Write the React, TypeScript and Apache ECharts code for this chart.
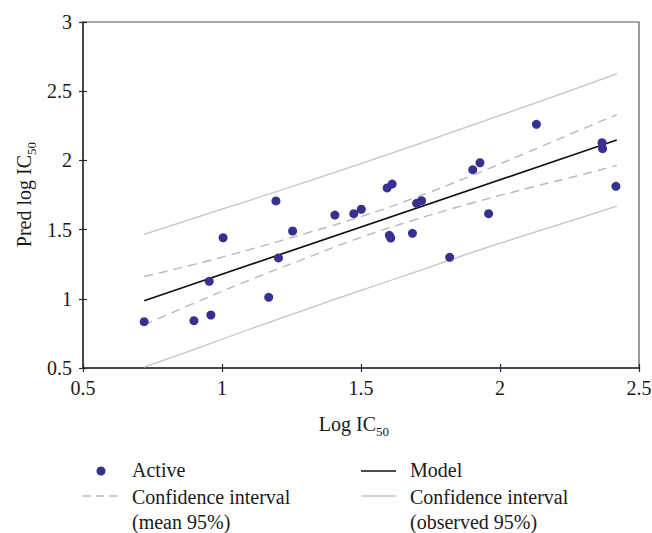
import React, { useEffect, useRef } from "react";
import * as echarts from "echarts";

// Observed (Log IC50) vs predicted (Pred log IC50) values – "Active" set
const activeX = [0.72, 0.899, 0.954, 0.96, 1.004, 1.168, 1.194, 1.203, 1.254, 1.406, 1.474, 1.501, 1.594, 1.612, 1.602, 1.607, 1.685, 1.7, 1.718, 1.819, 1.902, 1.928, 1.959, 2.131, 2.367, 2.369, 2.417];
const activeY = [0.835, 0.842, 1.126, 0.883, 1.441, 1.011, 1.707, 1.295, 1.49, 1.605, 1.615, 1.647, 1.801, 1.829, 1.459, 1.439, 1.473, 1.69, 1.709, 1.3, 1.933, 1.983, 1.615, 2.261, 2.128, 2.085, 1.813];

// Model line end points
const modelX = [0.72, 2.42];
const modelY = [0.986, 2.147];

// Confidence bands
const bandX = [0.72, 0.9, 1.1, 1.3, 1.5, 1.7, 1.9, 2.1, 2.3, 2.42];
const meanUpper = [1.161, 1.249, 1.356, 1.472, 1.594, 1.735, 1.892, 2.059, 2.23, 2.33];
const meanLower = [0.811, 0.969, 1.136, 1.292, 1.444, 1.575, 1.692, 1.799, 1.9, 1.964];
const obsUpper = [1.466, 1.583, 1.712, 1.843, 1.977, 2.114, 2.255, 2.395, 2.538, 2.625];
const obsLower = [0.506, 0.635, 0.78, 0.921, 1.061, 1.196, 1.335, 1.465, 1.592, 1.669];

// Axis ticks
const xTicks = [0.5, 1, 1.5, 2, 2.5];
const yTicks = [0.5, 1, 1.5, 2, 2.5, 3];

const FONT = "'Liberation Serif', 'DejaVu Serif', serif";
const TXT = "#1a1a1a";
const PT = "#38308f";
const DASH_C = "#b9b9b9";
const OBS_C = "#c4c4c4";

function pairs(xs: number[], ys: number[]) {
  return xs.map((x, i) => [x, ys[i]]);
}

export default function App() {
  const ref = useRef<HTMLDivElement>(null);
  useEffect(() => {
    if (!ref.current) return;
    const chart = echarts.init(ref.current, null, { renderer: "svg" });
    const axisCommon = {
      type: "value" as const,
      splitLine: { show: false },
    };
    const option: any = {
      animation: false,
      backgroundColor: "#ffffff",
      grid: {
        left: 83,
        right: 13,
        top: 22,
        bottom: 165,
        show: true,
        borderColor: "#555555",
        borderWidth: 1.2,
        outerBoundsMode: "none",
      },
      xAxis: [
        {
          ...axisCommon,
          min: xTicks[0],
          max: xTicks[xTicks.length - 1],
          interval: 0.5,
          axisLine: { show: true, lineStyle: { color: "#2a2a2a", width: 1.5 } },
          axisTick: { show: true, length: 4, lineStyle: { color: "#2a2a2a", width: 1.2 } },
          axisLabel: { color: TXT, fontFamily: FONT, fontSize: 20, margin: 10 },
        },
        {
          ...axisCommon,
          position: "bottom",
          min: xTicks[0],
          max: xTicks[xTicks.length - 1],
          interval: 0.5,
          axisLine: { show: false },
          axisTick: { show: true, inside: true, length: 4, lineStyle: { color: "#2a2a2a", width: 1.2 } },
          axisLabel: { show: false },
        },
      ],
      yAxis: [
        {
          ...axisCommon,
          min: yTicks[0],
          max: yTicks[yTicks.length - 1],
          interval: 0.5,
          axisLine: { show: true, lineStyle: { color: "#2a2a2a", width: 1.5 } },
          axisTick: { show: true, length: 4, lineStyle: { color: "#2a2a2a", width: 1.2 } },
          axisLabel: { color: TXT, fontFamily: FONT, fontSize: 20, margin: 11 },
        },
        {
          ...axisCommon,
          position: "left",
          min: yTicks[0],
          max: yTicks[yTicks.length - 1],
          interval: 0.5,
          axisLine: { show: false },
          axisTick: { show: true, inside: true, length: 4, lineStyle: { color: "#2a2a2a", width: 1.2 } },
          axisLabel: { show: false },
        },
      ],
      series: [
        {
          name: "Confidence interval (observed 95%) upper",
          type: "line",
          data: pairs(bandX, obsUpper),
          smooth: true,
          symbol: "none",
          lineStyle: { color: OBS_C, width: 1.3 },
          z: 1,
        },
        {
          name: "Confidence interval (observed 95%) lower",
          type: "line",
          data: pairs(bandX, obsLower),
          smooth: true,
          symbol: "none",
          lineStyle: { color: OBS_C, width: 1.3 },
          z: 1,
        },
        {
          name: "Confidence interval (mean 95%) upper",
          type: "line",
          data: pairs(bandX, meanUpper),
          smooth: true,
          symbol: "none",
          lineStyle: { color: DASH_C, width: 1.4, type: [9, 6] },
          z: 2,
        },
        {
          name: "Confidence interval (mean 95%) lower",
          type: "line",
          data: pairs(bandX, meanLower),
          smooth: true,
          symbol: "none",
          lineStyle: { color: DASH_C, width: 1.4, type: [9, 6] },
          z: 2,
        },
        {
          name: "Model",
          type: "line",
          data: pairs(modelX, modelY),
          symbol: "none",
          lineStyle: { color: "#111111", width: 1.7 },
          z: 3,
        },
        {
          name: "Active",
          type: "scatter",
          data: pairs(activeX, activeY),
          symbol: "circle",
          symbolSize: 9,
          itemStyle: { color: PT, opacity: 1 },
          z: 5,
        },
      ],
      graphic: [
        // X axis title
        {
          type: "text",
          x: 376,
          y: 424,
          style: { text: "Log IC", font: `20px ${FONT}`, fill: TXT, align: "right", verticalAlign: "middle" },
        },
        {
          type: "text",
          x: 376,
          y: 431,
          style: { text: "50", font: `13px ${FONT}`, fill: TXT, align: "left", verticalAlign: "middle" },
        },
        // Y axis title (rotated)
        {
          type: "group",
          x: 24,
          y: 195,
          rotation: Math.PI / 2,
          children: [
            {
              type: "text",
              x: 40,
              y: 0,
              style: { text: "Pred log IC", font: `20px ${FONT}`, fill: TXT, align: "right", verticalAlign: "middle" },
            },
            {
              type: "text",
              x: 40,
              y: 7,
              style: { text: "50", font: `13px ${FONT}`, fill: TXT, align: "left", verticalAlign: "middle" },
            },
          ],
        },
        // Legend
        { type: "circle", shape: { cx: 101, cy: 471, r: 4.5 }, style: { fill: PT } },
        { type: "text", x: 132, y: 470, style: { text: "Active", font: `20px ${FONT}`, fill: TXT, verticalAlign: "middle" } },
        { type: "line", shape: { x1: 83, y1: 496, x2: 118, y2: 496 }, style: { stroke: DASH_C, lineWidth: 1.4, lineDash: [8, 5] } },
        { type: "text", x: 132, y: 497, style: { text: "Confidence interval", font: `20px ${FONT}`, fill: TXT, verticalAlign: "middle" } },
        { type: "text", x: 132, y: 522, style: { text: "(mean 95%)", font: `20px ${FONT}`, fill: TXT, verticalAlign: "middle" } },
        { type: "line", shape: { x1: 361, y1: 471, x2: 396, y2: 471 }, style: { stroke: "#111111", lineWidth: 1.7 } },
        { type: "text", x: 410, y: 470, style: { text: "Model", font: `20px ${FONT}`, fill: TXT, verticalAlign: "middle" } },
        { type: "line", shape: { x1: 361, y1: 496, x2: 396, y2: 496 }, style: { stroke: OBS_C, lineWidth: 1.4 } },
        { type: "text", x: 410, y: 497, style: { text: "Confidence interval", font: `20px ${FONT}`, fill: TXT, verticalAlign: "middle" } },
        { type: "text", x: 410, y: 522, style: { text: "(observed 95%)", font: `20px ${FONT}`, fill: TXT, verticalAlign: "middle" } },
      ],
    };
    chart.setOption(option);
    return () => chart.dispose();
  }, []);
  return <div ref={ref} style={{ width: 652, height: 533, position: "absolute", left: 0, top: 0 }} />;
}
